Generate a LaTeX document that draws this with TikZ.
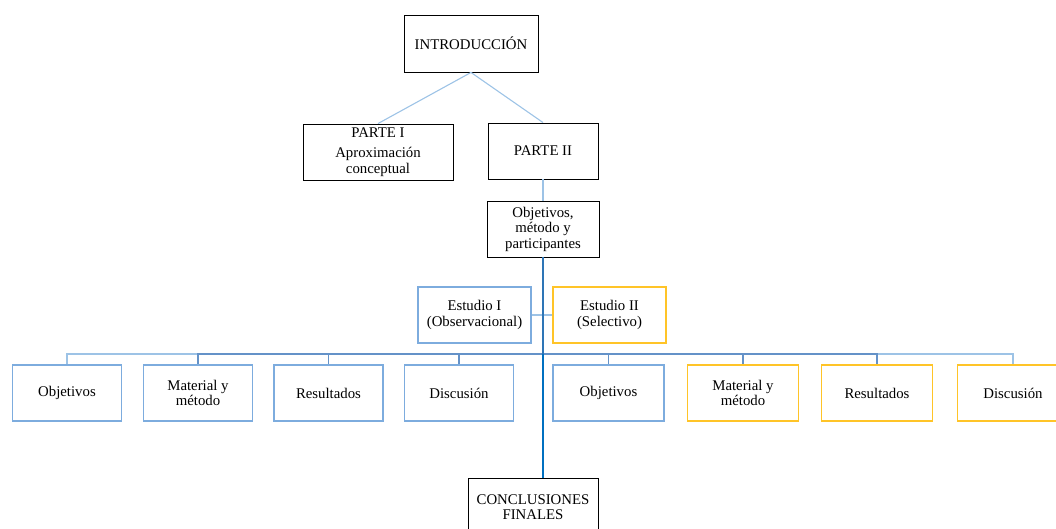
\documentclass[tikz,border=0pt]{standalone}
\usepackage{fontspec}
\setmainfont{Liberation Serif}
\begin{document}
\definecolor{lightline}{RGB}{157,195,230}
\definecolor{midline}{RGB}{100,146,200}
\definecolor{mainline}{RGB}{46,117,182}
\definecolor{brightline}{RGB}{0,112,192}
\definecolor{blueframe}{RGB}{125,172,222}
\definecolor{goldframe}{RGB}{255,196,40}
\begin{tikzpicture}[x=1pt,y=-1pt,
  every node/.style={font=\fontsize{14.8}{15.5}\selectfont, align=center, inner sep=0pt},
  blackbox/.style={draw=black, line width=0.9pt, minimum height=56pt},
  bluebox/.style={draw=blueframe, line width=1.1pt, minimum width=109pt, minimum height=56pt},
  goldbox/.style={draw=goldframe, line width=1.1pt, minimum width=111pt, minimum height=56pt},
  thin/.style={lightline, line width=1.1pt},
  drop/.style={line width=1.3pt},
  trunk/.style={line width=2pt}]
\clip (0,0) rectangle (1056,528);
\useasboundingbox (0,0) rectangle (1056,528);

% upper part of the outline
\node[blackbox, minimum width=134pt, minimum height=57pt] (intro) at (471,43.5) {INTRODUCCIÓN};
\node[blackbox, minimum width=150pt] (p1) at (378,152) {PARTE I\\[5pt]Aproximación\\conceptual};
\node[blackbox, minimum width=110pt] (p2) at (543,151) {PARTE II};
\node[blackbox, minimum width=112pt] (obj) at (543,229) {Objetivos,\\método y\\participantes};

% the two studies
\node[bluebox, minimum width=113pt] (e1) at (474.5,315) {Estudio I\\(Observacional)};
\node[goldbox, minimum width=113pt] (e2) at (609.5,315) {Estudio II\\(Selectivo)};

% sections of each study
\node[bluebox] (a1) at (67,393) {Objetivos};
\node[bluebox] (a2) at (198,393) {Material y\\método};
\node[bluebox] (a3) at (328.5,393) {Resultados};
\node[bluebox] (a4) at (459,393) {Discusión};
\node[bluebox, minimum width=111pt] (b1) at (608.5,393) {Objetivos};
\node[goldbox] (b2) at (743,393) {Material y\\método};
\node[goldbox] (b3) at (877,393) {Resultados};
\node[goldbox] (b4) at (1013,393) {Discusión};

\node[blackbox, minimum width=130pt, minimum height=58pt] (concl) at (533,507) {CONCLUSIONES\\FINALES};

% connectors
\draw[thin] (intro.south) -- (p1.north);
\draw[thin] (intro.south) -- (p2.north);
\draw[thin] (p2.south) -- (obj.north);
\draw[thin] (e1.east) -- (e2.west);

\coordinate (hub) at (543,354);
\draw[drop, lightline] (hub) -| (a1.north);
\draw[drop, lightline] (hub) -| (b4.north);
\draw[drop, midline] (hub) -| (a2.north);
\draw[drop, midline] (hub) -| (b3.north);
\draw[drop, midline] (hub) -| (a3.north);
\draw[drop, midline] (hub) -| (b2.north);
\draw[drop, midline] (hub) -| (a4.north);
\draw[drop, midline] (hub) -| (b1.north);
\draw[trunk, mainline] (obj.south) -- (hub);
\draw[trunk, brightline] (hub) -- (hub |- concl.north);
\end{tikzpicture}
\end{document}
